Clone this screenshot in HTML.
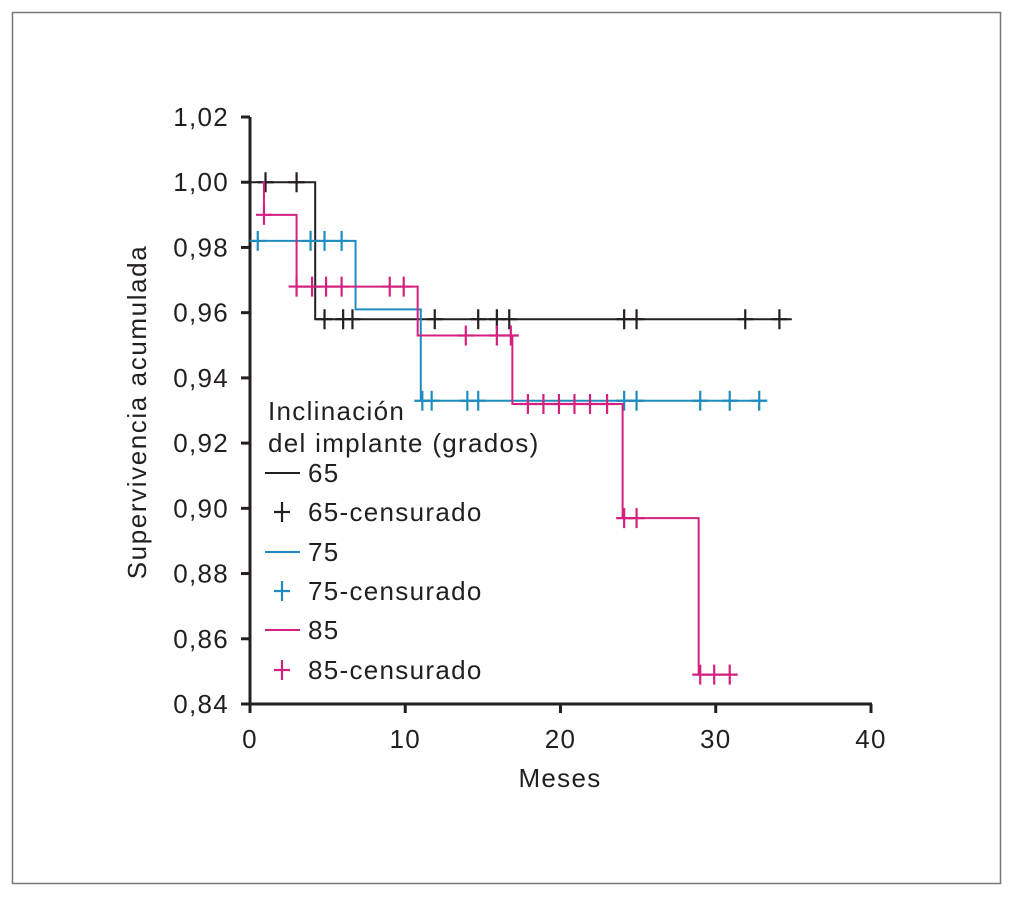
<!DOCTYPE html>
<html><head><meta charset="utf-8"><style>
body{margin:0;background:#fff;}
svg text{font-family:"Liberation Sans",Arial,sans-serif;fill:#231f20;letter-spacing:1.3px;}
</style></head><body>
<svg width="1012" height="900" viewBox="0 0 1012 900">
<rect x="12.5" y="12.5" width="988" height="871" fill="#fff" stroke="#777" stroke-width="1.5"/>
<g id="axes"></g>
<g id="series"></g>
<g id="legend"></g>
</svg>
<script>
const xTicks=[0,10,20,30,40];
const yTicks=[0.84,0.86,0.88,0.90,0.92,0.94,0.96,0.98,1.00,1.02];
const names=["65","75","85"];
const colors=["#231f20","#1f8cc0","#d4207f"];
const steps65=[[0,1.00],[4.2,0.958]]; const end65=34.9;
const steps75=[[0,0.982],[6.8,0.961],[11.0,0.933]]; const end75=33.3;
const steps85=[[0.8,1.00],[0.9,0.99],[3.0,0.968],[10.8,0.953],[16.9,0.932],[24.0,0.897],[28.9,0.849]]; const end85=31.4;
const cens65=[1.0,3.0,4.8,6.0,6.6,11.9,14.7,15.9,16.7,24.1,24.9,31.9,34.1];
const cens75=[0.5,3.9,4.8,5.9,11.1,11.7,14.0,14.7,24.1,24.9,29.0,30.9,32.8];
const cens85=[0.9,3.0,4.0,4.9,5.9,9.0,9.9,13.9,15.9,16.8,17.9,18.9,19.9,20.9,21.9,23.0,24.1,24.9,29.0,29.9,30.9];

const NS="http://www.w3.org/2000/svg";
const X0=250,X1=871,Y0=704,Y1=117;
function xs(t){return X0+(t-0)/(40-0)*(X1-X0);}
function ys(v){return Y0-(v-0.84)/(1.02-0.84)*(Y0-Y1);}
function mk(tag,attrs,parent){const e=document.createElementNS(NS,tag);for(const k in attrs)e.setAttribute(k,attrs[k]);parent.appendChild(e);return e;}
const axes=document.getElementById('axes');
let a=mk('line',{x1:X0,y1:Y1,x2:X0,y2:Y0+2,stroke:'#231f20','stroke-width':3},axes);


a=mk('line',{x1:X0-1,y1:Y0,x2:X1+1,y2:Y0,stroke:'#231f20','stroke-width':3},axes);


yTicks.forEach(v=>{
 const y=ys(v);
 mk('line',{x1:X0-9,y1:y,x2:X0,y2:y,stroke:'#231f20','stroke-width':3},axes);
 const t=mk('text',{x:X0-21,y:y+9,'text-anchor':'end','font-size':26},axes);
 t.textContent=v.toFixed(2).replace('.',',');
 
 
});
xTicks.forEach(v=>{
 const x=xs(v);
 mk('line',{x1:x,y1:Y0,x2:x,y2:Y0+9,stroke:'#231f20','stroke-width':3},axes);
 const t=mk('text',{x:x,y:Y0+44,'text-anchor':'middle','font-size':26},axes);
 t.textContent=v;
 
 
});
let tt=mk('text',{x:560,y:787,'text-anchor':'middle','font-size':26},axes);
tt.textContent='Meses';


tt=mk('text',{x:0,y:0,'text-anchor':'middle','font-size':26,style:'letter-spacing:1.6px',transform:'translate(146,412) rotate(-90)'},axes);
tt.textContent='Supervivencia acumulada';



const ser=document.getElementById('series');
const all=[[steps65,end65,cens65],[steps75,end75,cens75],[steps85,end85,cens85]];
function valAt(steps,t){let v=steps[0][1];for(const s of steps){if(s[0]<=t)v=s[1];}return v;}
all.forEach((s,i)=>{
 const [st,end,cs]=s;
 let d='M'+xs(st[0][0])+' '+ys(st[0][1]);
 for(let k=1;k<st.length;k++){d+=' H'+xs(st[k][0])+' V'+ys(st[k][1]);}
 d+=' H'+xs(end);
 const p=mk('path',{d:d,fill:'none',stroke:colors[i],'stroke-width':2},ser);
 
 
 cs.forEach(t=>{
  const x=xs(t),y=ys(valAt(st,t));
  const c=mk('path',{d:`M${x-8} ${y} H${x+8} M${x} ${y-10} V${y+10}`,stroke:colors[i],'stroke-width':2.2,fill:'none'},ser);
  
  
 });
});

const lg=document.getElementById('legend');
let l=mk('text',{x:268,y:420,'font-size':26},lg);l.textContent='Inclinación';


l=mk('text',{x:268,y:452,'font-size':26},lg);l.textContent='del implante (grados)';


const rowY=[482,521,561,600,639,679];
names.forEach((n,i)=>{
 const y1=rowY[i*2]-9,y2=rowY[i*2+1]-9;
 mk('line',{x1:265,y1:y1,x2:300,y2:y1,stroke:colors[i],'stroke-width':2},lg);
 let e=mk('text',{x:308,y:rowY[i*2],'font-size':26},lg);e.textContent=n;
 
 
 mk('path',{d:`M274 ${y2} H290 M282 ${y2-10} V${y2+10}`,stroke:colors[i],'stroke-width':2.2},lg);
 e=mk('text',{x:308,y:rowY[i*2+1],'font-size':26},lg);e.textContent=n+'-censurado';
 
 
});
</script>
</body></html>
